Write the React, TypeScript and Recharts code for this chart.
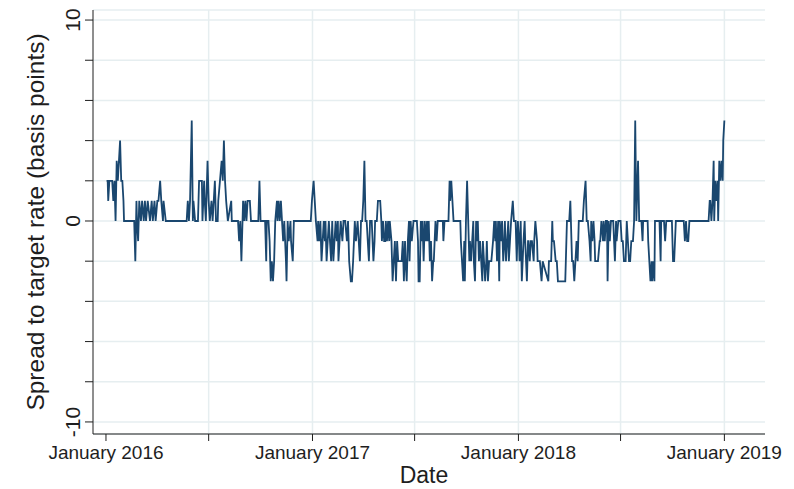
import { LineChart, Line, XAxis, YAxis, CartesianGrid, ReferenceLine } from 'recharts';

// days since 1 Jan 2016 and the spread (bp)
const DAYS = [
  1, 3, 4, 6, 9, 11, 13, 15, 17, 19, 21, 23, 25, 27, 29, 31, 32, 50, 52, 54,
  55, 57, 59, 62, 64, 67, 69, 71, 74, 78, 81, 83, 86, 88, 91, 93, 96, 98, 101, 102,
  106, 143, 145, 147, 149, 152, 154, 155, 158, 163, 165, 167, 170, 171, 174, 175, 177, 180, 182, 184,
  187, 189, 193, 195, 198, 199, 202, 205, 207, 209, 211, 213, 216, 222, 223, 234, 236, 238, 240, 242,
  243, 245, 247, 249, 251, 255, 257, 270, 272, 274, 282, 284, 285, 288, 290, 292, 294, 296, 298, 300,
  303, 304, 306, 308, 310, 312, 314, 316, 319, 320, 322, 324, 327, 328, 331, 333, 363, 365, 368, 370,
  372, 375, 376, 378, 380, 382, 384, 386, 388, 389, 391, 393, 395, 397, 399, 401, 403, 405, 407, 409,
  411, 412, 414, 416, 419, 421, 424, 427, 429, 431, 434, 436, 438, 441, 443, 446, 448, 450, 452, 454,
  456, 458, 460, 462, 464, 466, 468, 471, 474, 476, 477, 480, 482, 484, 486, 488, 489, 491, 493, 495,
  496, 498, 500, 502, 503, 506, 508, 510, 512, 514, 516, 518, 520, 522, 524, 526, 528, 530, 531, 533,
  535, 537, 538, 540, 542, 545, 551, 553, 554, 556, 558, 560, 561, 563, 565, 567, 569, 570, 572, 574,
  576, 578, 580, 581, 584, 586, 588, 597, 598, 600, 607, 609, 610, 612, 614, 616, 628, 629, 631, 633,
  635, 636, 638, 640, 642, 644, 645, 647, 649, 651, 652, 654, 656, 658, 659, 661, 663, 665, 667, 668,
  670, 672, 674, 675, 677, 679, 683, 686, 688, 690, 691, 693, 695, 697, 698, 700, 702, 704, 706, 707,
  709, 711, 713, 714, 716, 718, 721, 723, 726, 728, 730, 732, 733, 735, 737, 740, 742, 743, 746, 748,
  749, 751, 753, 755, 758, 759, 761, 764, 765, 769, 772, 774, 784, 785, 789, 791, 792, 794, 797, 799,
  801, 814, 815, 817, 821, 823, 824, 826, 828, 830, 832, 834, 836, 838, 845, 847, 850, 852, 854, 857,
  859, 860, 862, 864, 866, 867, 872, 875, 876, 878, 881, 882, 884, 886, 888, 889, 891, 893, 895, 899,
  902, 904, 905, 908, 912, 914, 916, 918, 921, 923, 925, 927, 929, 931, 934, 936, 938, 940, 941, 943,
  945, 949, 951, 952, 960, 961, 963, 965, 967, 968, 970, 972, 973, 981, 983, 984, 989, 991, 993, 1003,
  1005, 1007, 1010, 1024, 1026, 1028, 1030, 1032, 1034, 1068, 1070, 1071, 1073, 1075, 1077, 1078, 1080, 1082, 1084, 1085,
  1087, 1089, 1091, 1093, 1094, 1096,
];

const SPREAD = [
  2, 2, 1, 2, 2, 2, 1, 2, 0, 3, 2, 3, 4, 2, 2, 1, 0, 0, -2, 1,
  0, -1, 1, 0, 1, 0, 1, 0, 1, 0, 1, 0, 1, 0, 1, 1, 2, 1, 0, 1,
  0, 0, 1, 0, 1, 5, 0, 1, 0, 0, 2, 2, 2, 0, 2, 1, 0, 3, 1, 0,
  1, 0, 2, 0, 0, 1, 2, 3, 2, 4, 2, 1, 0, 1, 0, 0, -1, 0, -2, 0,
  1, 0, 1, 0, 1, 1, 0, 0, 2, 0, 0, -2, 0, 0, -1, -3, -2, -3, -2, 0,
  1, 0, 1, 0, 1, 0, -1, 0, -2, -3, 0, -1, 0, -1, -2, 0, 0, 1, 2, 1,
  0, -1, 0, -1, 0, -2, -1, 0, -1, 0, -2, -1, 0, -1, -2, 0, -2, -1, 0, -1,
  0, -2, -1, 0, -1, 0, 0, -1, 0, -2, -3, -3, -2, 0, -1, 0, -1, -2, 0, 0,
  1, 3, 0, 0, -1, -2, 0, 0, -2, -1, 0, 0, 1, 1, 1, 0, -1, 0, -1, -1,
  0, -1, 0, -1, 0, -1, -3, -2, -1, -3, -1, -2, -2, -2, -2, -1, -3, -1, -2, -3,
  -1, 0, -2, 0, -1, 0, 0, -1, -3, -3, 0, -1, 0, -2, 0, -1, 0, -1, 0, -2,
  -1, -3, -2, -2, 0, -1, 0, 0, -1, 0, 0, 2, 1, 2, 1, 0, 0, -1, -2, -3,
  -1, -3, 0, 2, 0, -2, -1, -2, -1, 0, -2, -3, 0, -1, 0, -2, -1, -2, -3, -1,
  -2, -3, -2, -1, -3, -2, -2, -1, 0, -1, 0, -2, 0, -3, 0, -1, 0, -2, -1, 0,
  -2, -1, 0, -2, -1, 0, 1, 0, 0, -2, 0, -1, -2, 0, -3, -1, 0, -1, -3, -1,
  -1, -2, -1, -1, -2, -1, 0, -1, -2, -2, -3, -2, -3, -2, -2, 0, -1, -1, -2, -2,
  -3, -3, -2, 0, 0, 1, 0, -2, -2, -3, -2, -1, -2, 0, 0, 1, 2, 0, 0, -1,
  -2, 0, -1, 0, -1, -2, -2, -1, -1, 0, -1, 0, -1, 0, 0, -3, 0, -1, 0, 0,
  -2, 0, -1, 0, 0, -1, -1, -2, -2, 0, -1, -2, -2, -1, -1, 0, 5, 0, 1, 3,
  0, 0, -1, 0, 0, -1, -2, -3, -2, -3, -2, -3, 0, 0, -2, 0, 0, -1, 0, 0,
  -2, -2, 0, 0, -1, 0, -1, -1, 0, 0, 1, 1, 0, 1, 3, 0, 2, 1, 2, 0,
  3, 2, 3, 2, 4, 5,
];

const X_TICKS = [0, 182, 366, 547, 731, 912, 1096];
const X_TICK_LABELS = ['January 2016', '', 'January 2017', '', 'January 2018', '', 'January 2019'];
const Y_TICKS = [-10, -8, -6, -4, -2, 0, 2, 4, 6, 8, 10];
const Y_LABELED = [-10, 0, 10];

const data = DAYS.map((day, i) => ({ day, spread: SPREAD[i] }));

const FONT = '"Liberation Sans", Arial, Helvetica, sans-serif';
const INK = '#1e1e1e';
const GRID = '#e6eef0';
const NAVY = '#1a476f';

function YTick(props: any) {
  const { x, y, payload } = props;
  if (!Y_LABELED.includes(payload.value)) return null;
  return (
    <text
      x={x}
      y={y}
      transform={`rotate(-90 ${x} ${y})`}
      textAnchor="middle"
      fontSize={21}
      fontFamily={FONT}
      fill={INK}
    >
      {payload.value}
    </text>
  );
}

const yTitle = (props: any) => {
  const { viewBox } = props;
  const cy = viewBox.y + viewBox.height / 2;
  return (
    <text
      x={44}
      y={cy}
      transform={`rotate(-90 44 ${cy})`}
      textAnchor="middle"
      fontSize={24.5}
      fontFamily={FONT}
      fill={INK}
    >
      Spread to target rate (basis points)
    </text>
  );
};

const xTitle = (props: any) => {
  const { viewBox } = props;
  return (
    <text
      x={viewBox.x + viewBox.width / 2 - 5}
      y={483}
      textAnchor="middle"
      fontSize={23}
      fontFamily={FONT}
      fill={INK}
    >
      Date
    </text>
  );
};

export default function App() {
  return (
    <div style={{ position: 'absolute', left: 0, top: 0, width: 794, height: 489, background: '#fff' }}>
      <LineChart width={794} height={489} data={data} margin={{ top: 10, right: 29, bottom: 0, left: 33 }}>
        <CartesianGrid vertical={false} stroke={GRID} strokeWidth={1.5} />
        {X_TICKS.slice(1).map((t) => (
          <ReferenceLine key={t} x={t} stroke={GRID} strokeWidth={1.5} />
        ))}
        <XAxis
          type="number"
          dataKey="day"
          domain={[-23, 1168]}
          ticks={X_TICKS}
          interval={0}
          allowDataOverflow
          tickFormatter={(v: number) => X_TICK_LABELS[X_TICKS.indexOf(v)] ?? ''}
          tick={{ fontSize: 19, fontFamily: FONT, fill: INK }}
          tickSize={7}
          tickMargin={5}
          height={55}
          stroke={INK}
          label={xTitle}
        />
        <YAxis
          type="number"
          domain={[-10.6, 10.5]}
          ticks={Y_TICKS}
          interval={0}
          allowDataOverflow
          tick={<YTick />}
          tickSize={8}
          tickMargin={5}
          width={60}
          stroke={INK}
          label={yTitle}
        />
        <Line
          type="linear"
          dataKey="spread"
          stroke={NAVY}
          strokeWidth={1.8}
          dot={false}
          isAnimationActive={false}
        />
      </LineChart>
    </div>
  );
}
